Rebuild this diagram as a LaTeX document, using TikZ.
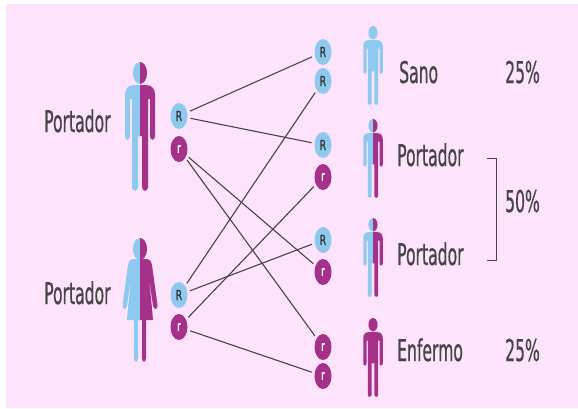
\documentclass[tikz,border=0pt]{standalone}
\usepackage{fontspec}
\usepackage{graphicx}
\setmainfont{DejaVu Sans}
\newfontfamily\labfont[FakeBold=0.7]{DejaVu Sans}
\usetikzlibrary{shapes.geometric}
\definecolor{pinkbg}{HTML}{FDE3FB}
\definecolor{blu}{HTML}{8ECAF0}
\definecolor{pur}{HTML}{A5318B}
\definecolor{ink}{HTML}{454545}
\tikzset{
  allele/.style={ellipse,minimum width=17pt,minimum height=26pt,inner sep=0pt,outer sep=3pt,font=\labfont\fontsize{14}{14}\selectfont},
  bigR/.style={allele,fill=blu,text=black!80},
  smallr/.style={allele,fill=pur,text=white},
  link/.style={draw=ink,line width=1.1pt},
  lab/.style={anchor=base west,inner sep=0pt,text=ink,font=\labfont\fontsize{30}{32}\selectfont}
}
\newcommand{\hd}{(0,0) .. controls (4,0) and (7,5) .. (7,11) .. controls (7,17) and (4,22) .. (0,22) -- cycle}
\newcommand{\manhalf}{(0,23) -- (6,23) .. controls (12,23) and (15,27) .. (15,33) -- (15,74) .. controls (15,79) and (10,79) .. (10,74) -- (10,37) -- (8,37) -- (8,125) .. controls (8,130) and (2,130) .. (2,125) -- (2,74) -- (0,74) -- cycle}
\newcommand{\womanhalf}{(0,21) -- (7,21) .. controls (10,21) and (11,23) .. (12,27) -- (17.5,67) .. controls (18,72) and (14,72) .. (13,68) -- (8.5,36) -- (11.8,68) -- (13,82) -- (6,82) -- (6,120) .. controls (6,125) and (2,125) .. (2,120) -- (2,82) -- (0,82) -- cycle}
\newcommand{\person}[7]{% x, top, xscale, yscale, left colour, right colour, body
  \begin{scope}[shift={(#1,#2)},xscale=#3,yscale=#4]
    \fill[#5] (0,0) .. controls (-4,0) and (-7,5) .. (-7,11) .. controls (-7,17) and (-4,22) .. (0,22) -- cycle;
    \fill[#6] \hd;
    \begin{scope}[xscale=-1]\fill[#5] #7;\end{scope}
    \fill[#6] #7;
  \end{scope}}
\newcommand{\sx}[1]{\scalebox{.52}[1]{#1}}
\newcommand{\sy}[1]{\scalebox{.65}[1]{#1}}
\begin{document}
\begin{tikzpicture}[x=1pt,y=-1pt]
\useasboundingbox (0,0) rectangle (578,408);
\fill[white] (0,0) rectangle (578,408);
\fill[pinkbg] (6,4) rectangle (578,408);

\person{140}{62}{1}{1}{blu}{pur}{\manhalf}
\person{140}{238}{1}{1}{blu}{pur}{\womanhalf}
\person{373}{26}{.65}{.612}{blu}{blu}{\manhalf}
\person{373}{119}{.65}{.612}{blu}{pur}{\manhalf}
\person{373}{218}{.65}{.612}{blu}{pur}{\manhalf}
\person{373}{318}{.65}{.612}{pur}{pur}{\manhalf}

\node[bigR] (a1) at (179,116) {\sy{R}};
\node[smallr] (a2) at (179,149) {\sy{r}};
\node[bigR] (b1) at (179,295) {\sy{R}};
\node[smallr] (b2) at (179,327) {\sy{r}};
\node[bigR] (c1) at (323,52) {\sy{R}};
\node[bigR] (c2) at (323,81) {\sy{R}};
\node[bigR] (c3) at (323,145) {\sy{R}};
\node[smallr] (c4) at (323,177) {\sy{r}};
\node[bigR] (c5) at (323,240) {\sy{R}};
\node[smallr] (c6) at (323,272) {\sy{r}};
\node[smallr] (c7) at (323,347) {\sy{r}};
\node[smallr] (c8) at (323,376) {\sy{r}};

\draw[link] (a1) -- (c1);
\draw[link] (a1) -- (c3);
\draw[link] (a2) -- (c6);
\draw[link] (a2) -- (c7);
\draw[link] (b1) -- (c2);
\draw[link] (b1) -- (c5);
\draw[link] (b2) -- (c4);
\draw[link] (b2) -- (c8);

\node[lab] (t1) at (44,132) {\sx{Portador}};
\node[lab] (t2) at (44,304) {\sx{Portador}};
\node[lab] (t3) at (399,83) {\sx{Sano}};
\node[lab] (t4) at (397,166) {\sx{Portador}};
\node[lab] (t5) at (397,265) {\sx{Portador}};
\node[lab] (t6) at (397,361) {\sx{Enfermo}};
\node[lab] (p1) at (505,83) {\sx{25\%}};
\node[lab] (p2) at (505,212) {\sx{50\%}};
\node[lab] (p3) at (505,361) {\sx{25\%}};

\coordinate (k1) at (487,158);
\coordinate (k2) at (487,260);
\draw[draw=ink,line width=.7pt] (k1) -| (496,260) -- (k2);
\end{tikzpicture}
\end{document}
